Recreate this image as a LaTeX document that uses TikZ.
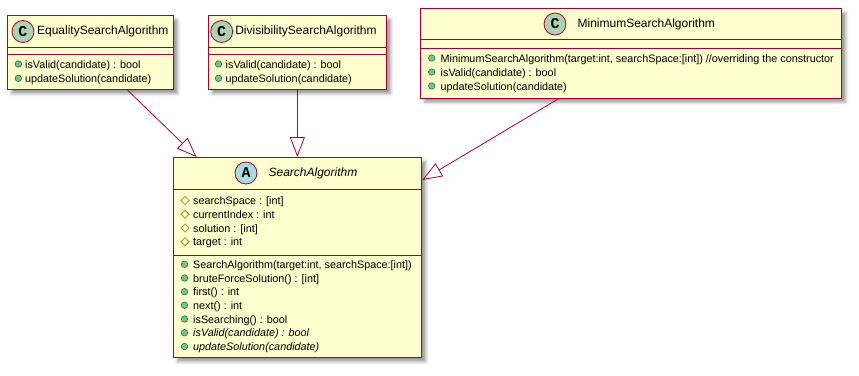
\documentclass[tikz,border=0pt]{standalone}
\usepackage{fontspec}
\setmainfont{Liberation Sans}
\newfontfamily\iconfont{Liberation Mono}
\usetikzlibrary{arrows.meta,positioning,shapes.geometric,shadows.blur}
\definecolor{umlfill}{HTML}{FEFECE}
\definecolor{umlred}{HTML}{A80036}
\definecolor{iconC}{HTML}{ADD1B2}
\definecolor{iconA}{HTML}{A9DCDF}
\definecolor{pubfill}{HTML}{84BE84}
\definecolor{publine}{HTML}{038048}
\definecolor{protline}{HTML}{B38D22}
\tikzset{
	classbox/.style={draw=umlred, line width=1.2pt, fill=umlfill, anchor=north west, inner sep=0pt,
		blur shadow={shadow xshift=4pt, shadow yshift=-4pt, shadow blur radius=3pt, shadow opacity=40}},
	sepline/.style={draw=umlred, line width=0.9pt},
	classicon/.style={circle, draw=umlred, line width=0.8pt, fill=iconC, minimum size=22pt, inner sep=0pt,
		font=\iconfont\bfseries\fontsize{15}{15}\selectfont},
	abstracticon/.style={classicon, fill=iconA},
	classname/.style={inner sep=0pt, font=\fontsize{12}{14}\selectfont},
	member/.style={anchor=base west, inner sep=0pt, font=\fontsize{10.8}{13}\selectfont},
	public/.style={circle, draw=publine, fill=pubfill, line width=0.6pt, minimum size=6.5pt, inner sep=0pt},
	protected/.style={diamond, draw=protline, line width=0.8pt, minimum size=8.5pt, inner sep=0pt},
	extends/.style={draw=umlred, line width=0.8pt, -{Triangle[open, length=20pt, width=15pt]}}
}

\begin{document}
\begin{tikzpicture}[x=1pt, y=-1pt]
		%%%%% START %%%%%
		\useasboundingbox (0,0) rectangle (859,375);
		
		% EqualitySearchAlgorithm
		\node[classbox, minimum width=166, minimum height=74] (eq) at (7,15) {};
		\node[classicon] (eqicon) at (23,31.5) {C};
		\node[classname, right=2.5pt of eqicon] (eqname) {EqualitySearchAlgorithm};
		\draw[sepline] (7,47.3) -- (173,47.3);
		\draw[sepline] (7,54) -- (173,54);
		\node[public] (eqdot1) at (18.3,64) {};
		\node[member] (eqm1) at (25,68) {isValid(candidate) : bool};
		\node[public] (eqdot2) at (18.3,78.3) {};
		\node[member] (eqm2) at (25,82.3) {updateSolution(candidate)};
		
		% DivisibilitySearchAlgorithm
		\node[classbox, minimum width=178.5, minimum height=74] (dv) at (207.5,15) {};
		\node[classicon] (dvicon) at (221.7,31.5) {C};
		\node[classname, right=2pt of dvicon] (dvname) {DivisibilitySearchAlgorithm};
		\draw[sepline] (207.5,47.3) -- (386,47.3);
		\draw[sepline] (207.5,54) -- (386,54);
		\node[public] (dvdot1) at (218.5,64) {};
		\node[member] (dvm1) at (225.5,68) {isValid(candidate) : bool};
		\node[public] (dvdot2) at (218.5,78.3) {};
		\node[member] (dvm2) at (225.5,82.3) {updateSolution(candidate)};
		
		% MinimumSearchAlgorithm
		\node[classbox, minimum width=421, minimum height=89.5] (minalg) at (420,8) {};
		\node[classicon] (minicon) at (555,24) {C};
		\node[classname, right=11pt of minicon] (minname) {MinimumSearchAlgorithm};
		\draw[sepline] (420,39.3) -- (841,39.3);
		\draw[sepline] (420,48) -- (841,48);
		\node[public] (mindot1) at (431.7,58) {};
		\node[member] (minm1) at (440.5,62) {MinimumSearchAlgorithm(target:int, searchSpace:[int]) //overriding the constructor};
		\node[public] (mindot2) at (431.7,72) {};
		\node[member] (minm2) at (440.5,76) {isValid(candidate) : bool};
		\node[public] (mindot3) at (431.7,86) {};
		\node[member] (minm3) at (440.5,90) {updateSolution(candidate)};
		
		% SearchAlgorithm (abstract)
		\node[classbox, minimum width=248, minimum height=200] (sa) at (173,157) {};
		\node[abstracticon] (saicon) at (246,173) {A};
		\node[classname, right=11pt of saicon, font=\fontsize{12}{14}\selectfont\itshape] (saname) {SearchAlgorithm};
		\draw[sepline] (173,189.5) -- (421,189.5);
		\node[protected] (saattr1) at (185,200.5) {};
		\node[member] (saa1) at (193,204.5) {searchSpace : [int]};
		\node[protected] (saattr2) at (185,214.3) {};
		\node[member] (saa2) at (193,218.3) {currentIndex : int};
		\node[protected] (saattr3) at (185,228) {};
		\node[member] (saa3) at (193,232) {solution : [int]};
		\node[protected] (saattr4) at (185,241.7) {};
		\node[member] (saa4) at (193,245.7) {target : int};
		\draw[sepline] (173,255) -- (421,255);
		\node[public] (sadot1) at (184.5,264.3) {};
		\node[member] (sam1) at (193,268.3) {SearchAlgorithm(target:int, searchSpace:[int])};
		\node[public] (sadot2) at (184.5,278) {};
		\node[member] (sam2) at (193,282) {bruteForceSolution() : [int]};
		\node[public] (sadot3) at (184.5,291.7) {};
		\node[member] (sam3) at (193,295.7) {first() : int};
		\node[public] (sadot4) at (184.5,305.3) {};
		\node[member] (sam4) at (193,309.3) {next() : int};
		\node[public] (sadot5) at (184.5,319) {};
		\node[member] (sam5) at (193,323) {isSearching() : bool};
		\node[public] (sadot6) at (184.5,332.7) {};
		\node[member, font=\fontsize{10.8}{13}\selectfont\itshape] (sam6) at (193,336.7) {isValid(candidate) : bool};
		\node[public] (sadot7) at (184.5,346.5) {};
		\node[member, font=\fontsize{10.8}{13}\selectfont\itshape] (sam7) at (193,350.5) {updateSolution(candidate)};
		
		% generalisations
		\draw[extends] ([xshift=37pt]eq.south) -- ([xshift=-101pt]sa.north);
		\draw[extends] (dv.south) -- (dv.south |- sa.north);
		\draw[extends] ([xshift=-72.5pt]minalg.south) -- ([yshift=-23pt]sa.north east);
		
		%%%%% END %%%%%
	\end{tikzpicture}
\end{document}
